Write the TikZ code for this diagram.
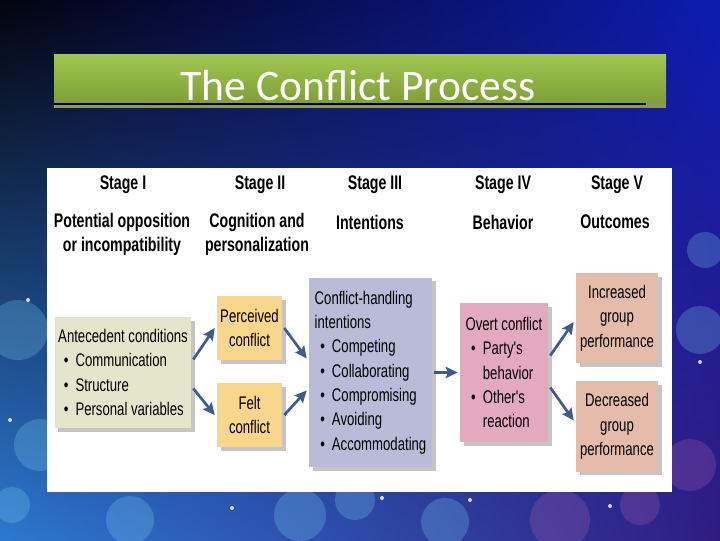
\documentclass[tikz,border=0pt]{standalone}
\usepackage{fontspec}
\usepackage{tikz}
\usetikzlibrary{arrows.meta, shadows, shadings}
\newfontfamily\titlefont{Carlito}
\newfontfamily\condfont[FakeStretch=0.72]{Liberation Sans}

\definecolor{bgTL}{HTML}{03040E}
\definecolor{bgTR}{HTML}{0C1CB0}
\definecolor{bgBL}{HTML}{2C78D0}
\definecolor{bgBR}{HTML}{301C80}
\definecolor{bannerTop}{HTML}{A0C750}
\definecolor{bannerBot}{HTML}{7E9E38}
\definecolor{bannerStrip}{HTML}{8C9A62}
\definecolor{causeFill}{HTML}{E4E6CB}
\definecolor{perceptFill}{HTML}{F8D68C}
\definecolor{intentFill}{HTML}{BABBD9}
\definecolor{behaveFill}{HTML}{E3A9BE}
\definecolor{outcomeFill}{HTML}{E4BCA9}
\definecolor{arrowBlue}{HTML}{3F5B8C}

\newcommand{\bul}{\hspace*{4pt}\textbullet\hspace{5pt}}
\newcommand{\cont}{\hspace*{4pt}\phantom{\textbullet}\hspace{5pt}}

\tikzstyle{stagehead} = [font=\condfont\bfseries\fontsize{14}{17.5}\selectfont, align=center, inner sep=0pt]
\tikzstyle{stagebox} = [rectangle, align=left, inner sep=2pt, drop shadow={shadow xshift=2.5pt, shadow yshift=-2.5pt, opacity=0.45}, font=\condfont\fontsize{13}{17.3}\selectfont]
\tikzstyle{causebox} = [stagebox, fill=causeFill, minimum width=3.4cm, minimum height=2.775cm]
\tikzstyle{perceptbox} = [stagebox, fill=perceptFill, align=center, minimum width=1.625cm, minimum height=1.6cm]
\tikzstyle{intentbox} = [stagebox, fill=intentFill, minimum width=3.075cm, minimum height=4.725cm]
\tikzstyle{behavebox} = [stagebox, fill=behaveFill, minimum width=2.2cm, minimum height=3.475cm]
\tikzstyle{outcomebox} = [stagebox, fill=outcomeFill, align=center, minimum width=2.05cm, minimum height=2.25cm]
\tikzstyle{arrow} = [line width=1.9pt, draw=arrowBlue, -{Stealth[length=8.5pt, width=8pt, inset=1.5pt]}]
\tikzstyle{bokeh} = [fill=cyan!50!white, opacity=0.25]

\begin{document}
\begin{tikzpicture}[x=0.025cm, y=-0.025cm]
\useasboundingbox (0,0) rectangle (720,540);

% background
\shade[upper left=bgTL, upper right=bgTR, lower left=bgBL, lower right=bgBR] (0,0) rectangle (720,540);
\foreach \bx/\by/\br in {18/330/30, 40/445/26, 12/505/18, 130/520/24, 300/515/26, 355/500/20, 445/522/24, 700/330/24, 705/250/18}
  \fill[bokeh] (\bx,\by) circle (\br);
\foreach \bx/\by/\br in {560/520/30, 690/465/26, 640/505/20}
  \fill[fill=violet!60!white, opacity=0.25] (\bx,\by) circle (\br);
\foreach \bx/\by in {10/420, 232/508, 382/498, 610/506, 700/362, 28/300, 470/500}
  \fill[white, opacity=0.8] (\bx,\by) circle (2);

% title banner
\shade[top color=bannerTop, bottom color=bannerBot] (54,54) rectangle (666,104);
\fill[bannerStrip] (54,104) rectangle (666,108);
\draw[black, line width=0.8pt] (54,104) -- (646,104);
\node (title) [anchor=base, text=white, font=\titlefont\fontsize{31}{36}\selectfont, inner sep=0pt] at (358,100) {The Conflict Process};

% white panel
\fill[white] (47,168) rectangle (672,492);

% stage headings
\node (stage1) [stagehead] at (123,185) {Stage I};
\node (stage2) [stagehead] at (260,185) {Stage II};
\node (stage3) [stagehead] at (375,185) {Stage III};
\node (stage4) [stagehead] at (503,185) {Stage IV};
\node (stage5) [stagehead] at (617,185) {Stage V};
\node (name1) [stagehead] at (122,234.5) {Potential opposition\\or incompatibility};
\node (name2) [stagehead] at (257,234.5) {Cognition and\\personalization};
\node (name3) [stagehead] at (370,222) {Intentions};
\node (name4) [stagehead] at (503,222) {Behavior};
\node (name5) [stagehead] at (615,222) {Outcomes};

% boxes
\node (cause) [causebox] at (123,372.5) {Antecedent conditions\\\bul Communication\\\bul Structure\\\bul Personal variables};
\node (perceived) [perceptbox] at (249.5,328) {Perceived\\conflict};
\node (felt) [perceptbox] at (249.5,415) {Felt\\conflict};
\node (intent) [intentbox] at (370.5,372.5) {Conflict-handling\\intentions\\\bul Competing\\\bul Collaborating\\\bul Compromising\\\bul Avoiding\\\bul Accommodating};
\node (behave) [behavebox] at (504,372.5) {Overt conflict\\\bul Party's\\\cont behavior\\\bul Other's\\\cont reaction};
\node (increased) [outcomebox] at (617,318) {Increased\\group\\performance};
\node (decreased) [outcomebox] at (617,426.5) {Decreased\\group\\performance};

\draw [arrow] ([shift={(2,-13)}]cause.east) -- ([shift={(-2,0)}]perceived.west);
\draw [arrow] ([shift={(2,16)}]cause.east) -- ([shift={(-2,0)}]felt.west);
\draw [arrow] ([shift={(2,0)}]perceived.east) -- ([shift={(-2,-14)}]intent.west);
\draw [arrow] ([shift={(2,0)}]felt.east) -- ([shift={(-2,18)}]intent.west);
\draw [arrow] ([shift={(2,0)}]intent.east) -- ([shift={(-2,0)}]behave.west);
\draw [arrow] ([shift={(2,-17)}]behave.east) -- ([shift={(-2,4)}]increased.west);
\draw [arrow] ([shift={(2,15)}]behave.east) -- ([shift={(-2,-6)}]decreased.west);

\end{tikzpicture}
\end{document}
